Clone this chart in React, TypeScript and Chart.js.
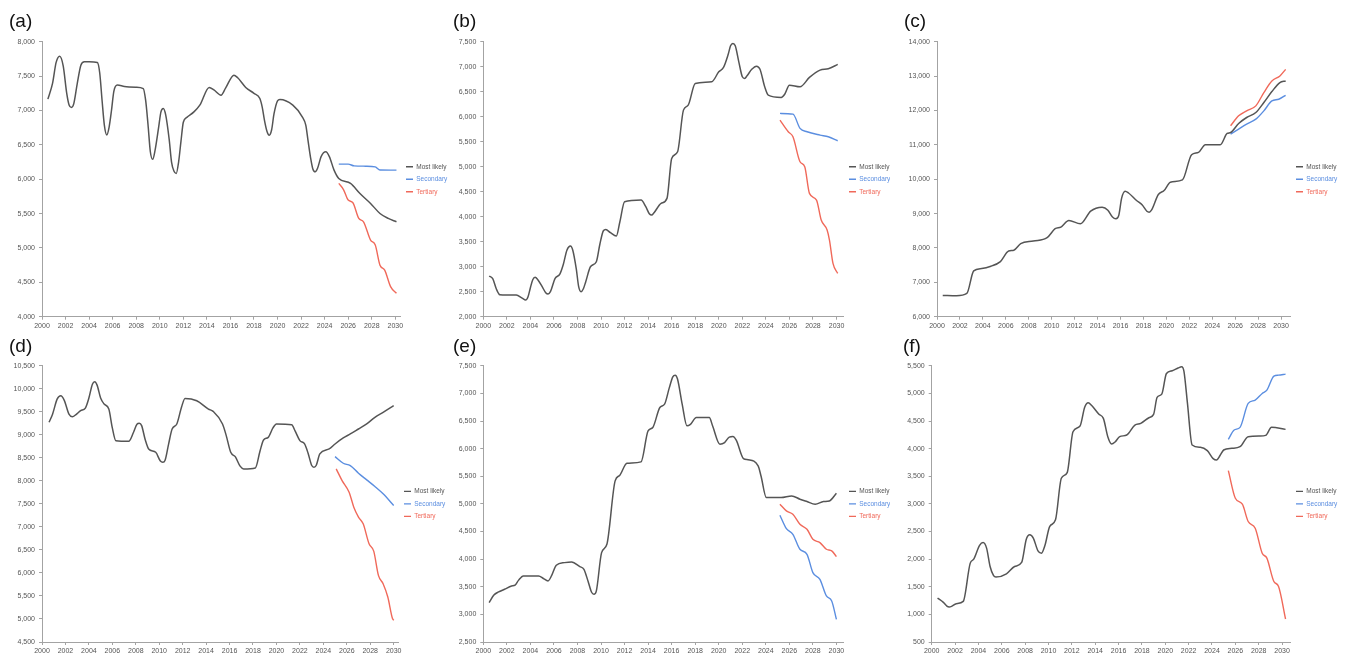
import React, { useEffect, useRef } from 'react';
import { Chart, registerables } from 'chart.js';

Chart.register(...registerables);

const FONT = "'Liberation Sans', Arial, Helvetica, sans-serif";
const SERIES_NAMES = ['Most likely', 'Secondary', 'Tertiary'];
const SERIES_COLORS = ['#555555', '#5b8ee0', '#f0695a'];
const PANEL_LABELS = ['(a)', '(b)', '(c)', '(d)', '(e)', '(f)'];
const xTickYears = [2000, 2002, 2004, 2006, 2008, 2010, 2012, 2014, 2016, 2018, 2020, 2022, 2024, 2026, 2028, 2030];

// ---------- (a) ----------
const aYTicks = [4000, 4500, 5000, 5500, 6000, 6500, 7000, 7500, 8000];
const aMostYears = [2000.5, 2000.9, 2001.2, 2001.5, 2001.8, 2002.1, 2002.3, 2002.5, 2002.7, 2003.0, 2003.3, 2003.6, 2004.0, 2004.7, 2004.9, 2005.1, 2005.3, 2005.5, 2005.7, 2005.9, 2006.1, 2006.4, 2007.0, 2008.0, 2008.6, 2008.8, 2009.0, 2009.2, 2009.4, 2009.6, 2009.9, 2010.1, 2010.3, 2010.5, 2010.8, 2011.0, 2011.2, 2011.4, 2011.6, 2011.8, 2012.0, 2012.3, 2012.9, 2013.4, 2014.2, 2014.6, 2015.2, 2015.6, 2016.3, 2016.6, 2017.3, 2018.0, 2018.5, 2018.7, 2018.9, 2019.1, 2019.3, 2019.5, 2019.7, 2020.0, 2020.2, 2021.3, 2022.1, 2022.4, 2022.6, 2022.8, 2023.0, 2023.2, 2023.4, 2023.7, 2024.1, 2024.4, 2024.8, 2025.2, 2026.2, 2027.0, 2027.9, 2028.7, 2029.4, 2030.1];
const aMost = [7166, 7400, 7700, 7790, 7650, 7250, 7080, 7045, 7100, 7400, 7660, 7710, 7710, 7700, 7550, 7150, 6780, 6645, 6760, 7000, 7280, 7370, 7350, 7340, 7320, 7150, 6800, 6400, 6290, 6420, 6750, 6980, 7030, 6940, 6580, 6250, 6120, 6085, 6250, 6550, 6830, 6900, 6980, 7078, 7336, 7300, 7224, 7330, 7515, 7480, 7336, 7250, 7175, 7050, 6850, 6700, 6642, 6720, 6950, 7140, 7161, 7078, 6909, 6787, 6550, 6320, 6150, 6109, 6160, 6330, 6400, 6330, 6133, 6012, 5939, 5793, 5648, 5502, 5430, 5381];
const aSecYears = [2025.2, 2026.0, 2026.5, 2027.5, 2028.3, 2028.7, 2030.1];
const aSec = [6220, 6220, 6195, 6190, 6180, 6135, 6133];
const aTerYears = [2025.2, 2025.6, 2026.0, 2026.4, 2026.9, 2027.3, 2027.9, 2028.3, 2028.7, 2029.1, 2029.6, 2030.1];
const aTer = [5939, 5850, 5697, 5658, 5430, 5381, 5115, 5042, 4750, 4678, 4437, 4340];

// ---------- (b) ----------
const bYTicks = [2000, 2500, 3000, 3500, 4000, 4500, 5000, 5500, 6000, 6500, 7000, 7500];
const bMostYears = [2000.5, 2000.8, 2001.1, 2001.4, 2002.0, 2002.8, 2003.3, 2003.6, 2003.8, 2004.0, 2004.2, 2004.4, 2004.6, 2005.0, 2005.3, 2005.5, 2005.7, 2006.1, 2006.5, 2006.8, 2007.1, 2007.4, 2007.6, 2007.9, 2008.1, 2008.3, 2008.5, 2008.7, 2009.1, 2009.6, 2009.9, 2010.2, 2010.4, 2010.8, 2011.3, 2011.6, 2012.0, 2013.4, 2013.8, 2014.1, 2014.3, 2014.5, 2015.1, 2015.6, 2016.0, 2016.5, 2017.0, 2017.4, 2018.0, 2019.4, 2020.0, 2020.4, 2020.8, 2021.0, 2021.2, 2021.4, 2021.7, 2022.0, 2022.2, 2022.4, 2022.8, 2023.2, 2023.5, 2023.9, 2024.2, 2025.3, 2025.6, 2026.0, 2026.9, 2027.7, 2028.6, 2029.3, 2030.1];
const bMost = [2813, 2760, 2560, 2440, 2433, 2433, 2370, 2333, 2400, 2580, 2740, 2787, 2750, 2600, 2480, 2453, 2500, 2767, 2853, 3050, 3330, 3413, 3330, 2950, 2600, 2500, 2560, 2700, 3000, 3100, 3450, 3720, 3745, 3680, 3613, 3900, 4300, 4333, 4200, 4060, 4033, 4080, 4267, 4367, 5167, 5300, 6133, 6233, 6667, 6700, 6900, 6987, 7250, 7420, 7467, 7420, 7100, 6800, 6767, 6820, 6950, 7013, 6950, 6600, 6433, 6387, 6450, 6633, 6600, 6787, 6933, 6960, 7047];
const bSecYears = [2025.2, 2026.3, 2026.9, 2027.5, 2028.6, 2029.3, 2030.1];
const bSec = [6067, 6053, 5767, 5700, 5633, 5600, 5520];
const bTerYears = [2025.2, 2025.9, 2026.3, 2026.9, 2027.3, 2027.7, 2028.3, 2028.7, 2029.2, 2029.4, 2029.7, 2030.1];
const bTer = [5933, 5700, 5600, 5100, 5000, 4467, 4333, 3933, 3733, 3533, 3067, 2867];

// ---------- (c) ----------
const cYTicks = [6000, 7000, 8000, 9000, 10000, 11000, 12000, 13000, 14000];
const cMostYears = [2000.5, 2001.7, 2002.6, 2003.2, 2003.9, 2004.7, 2005.5, 2006.25, 2006.7, 2007.3, 2008.4, 2009.6, 2010.3, 2010.8, 2011.5, 2012.5, 2013.4, 2014.4, 2014.9, 2015.3, 2015.6, 2015.85, 2016.1, 2016.4, 2016.7, 2017.4, 2017.9, 2018.3, 2018.5, 2018.7, 2019.3, 2019.8, 2020.35, 2021.4, 2022.2, 2022.8, 2023.4, 2024.7, 2025.3, 2025.6, 2026.3, 2027.0, 2027.8, 2028.5, 2029.2, 2029.9, 2030.4];
const cMost = [6618, 6609, 6676, 7333, 7401, 7469, 7594, 7913, 7935, 8126, 8203, 8300, 8560, 8609, 8802, 8705, 9072, 9188, 9100, 8900, 8850, 8950, 9450, 9652, 9600, 9382, 9250, 9070, 9043, 9100, 9556, 9671, 9913, 9981, 10715, 10783, 11005, 11005, 11333, 11360, 11623, 11797, 11942, 12232, 12551, 12812, 12860];
const cSecYears = [2025.6, 2026.3, 2027.0, 2027.8, 2028.5, 2029.2, 2029.8, 2030.4];
const cSec = [11314, 11459, 11604, 11749, 11990, 12280, 12329, 12444];
const cTerYears = [2025.6, 2026.3, 2027.0, 2027.8, 2028.5, 2029.2, 2029.9, 2030.4];
const cTer = [11556, 11845, 11990, 12135, 12522, 12860, 13005, 13198];

// ---------- (d) ----------
const dYTicks = [4500, 5000, 5500, 6000, 6500, 7000, 7500, 8000, 8500, 9000, 9500, 10000, 10500];
const dMostYears = [2000.6, 2000.9, 2001.3, 2001.6, 2001.9, 2002.3, 2002.6, 2002.9, 2003.3, 2003.7, 2004.0, 2004.3, 2004.5, 2004.7, 2005.0, 2005.3, 2005.7, 2006.0, 2006.3, 2007.4, 2007.8, 2008.1, 2008.3, 2008.5, 2008.8, 2009.1, 2009.7, 2010.1, 2010.3, 2010.5, 2010.8, 2011.1, 2011.5, 2011.9, 2012.2, 2013.2, 2014.2, 2014.6, 2015.4, 2015.7, 2016.1, 2016.5, 2016.9, 2017.2, 2018.2, 2018.6, 2018.9, 2019.3, 2019.7, 2020.0, 2021.3, 2021.6, 2022.0, 2022.4, 2022.7, 2023.0, 2023.2, 2023.4, 2023.7, 2024.5, 2025.0, 2025.7, 2026.3, 2027.0, 2027.7, 2028.4, 2029.1, 2030.0];
const dMost = [9272, 9450, 9780, 9850, 9750, 9450, 9394, 9440, 9525, 9582, 9800, 10100, 10153, 10080, 9800, 9669, 9561, 9150, 8874, 8860, 9050, 9230, 9250, 9200, 8900, 8694, 8621, 8430, 8405, 8450, 8800, 9127, 9236, 9600, 9792, 9741, 9561, 9510, 9236, 9000, 8621, 8520, 8320, 8260, 8282, 8650, 8889, 8946, 9150, 9236, 9221, 9080, 8874, 8802, 8600, 8340, 8296, 8340, 8585, 8694, 8802, 8932, 9019, 9127, 9236, 9380, 9488, 9633];
const dSecYears = [2025.0, 2025.7, 2026.3, 2027.0, 2027.7, 2028.4, 2029.1, 2030.0];
const dSec = [8527, 8383, 8332, 8166, 8022, 7877, 7718, 7464];
const dTerYears = [2025.1, 2025.6, 2026.2, 2026.6, 2027.0, 2027.4, 2027.9, 2028.3, 2028.7, 2029.1, 2029.5, 2029.9, 2030.0];
const dTer = [8260, 8007, 7754, 7428, 7212, 7067, 6634, 6474, 5948, 5767, 5478, 5009, 4972];

// ---------- (e) ----------
const eYTicks = [2500, 3000, 3500, 4000, 4500, 5000, 5500, 6000, 6500, 7000, 7500];
const eMostYears = [2000.5, 2000.9, 2001.3, 2001.8, 2002.4, 2002.7, 2003.0, 2003.4, 2004.7, 2005.1, 2005.5, 2005.8, 2006.2, 2006.9, 2007.5, 2008.2, 2008.55, 2008.9, 2009.2, 2009.4, 2009.6, 2010.05, 2010.5, 2011.2, 2011.6, 2012.2, 2013.4, 2014.0, 2014.4, 2015.0, 2015.4, 2015.8, 2016.1, 2016.3, 2016.5, 2016.9, 2017.3, 2017.6, 2018.1, 2019.2, 2019.5, 2020.1, 2020.5, 2020.9, 2021.2, 2021.5, 2022.1, 2022.5, 2023.35, 2023.6, 2024.05, 2025.3, 2026.2, 2026.9, 2027.5, 2028.2, 2028.9, 2029.4, 2030.0];
const eMost = [3213, 3350, 3406, 3454, 3514, 3530, 3620, 3696, 3696, 3650, 3605, 3700, 3889, 3937, 3949, 3865, 3816, 3600, 3400, 3363, 3420, 4118, 4269, 5417, 5519, 5737, 5761, 6322, 6383, 6745, 6806, 7100, 7300, 7331, 7260, 6800, 6413, 6440, 6564, 6564, 6400, 6081, 6110, 6210, 6220, 6150, 5821, 5800, 5688, 5500, 5115, 5115, 5145, 5085, 5042, 4994, 5042, 5054, 5193];
const eSecYears = [2025.2, 2025.75, 2026.3, 2026.9, 2027.5, 2028.0, 2028.6, 2029.15, 2029.6, 2030.0];
const eSec = [4795, 4553, 4450, 4179, 4088, 3756, 3635, 3333, 3243, 2910];
const eTerYears = [2025.2, 2025.75, 2026.3, 2026.9, 2027.5, 2028.0, 2028.6, 2029.15, 2029.6, 2030.0];
const eTer = [4994, 4873, 4813, 4632, 4541, 4360, 4300, 4179, 4149, 4046];

// ---------- (f) ----------
const fYTicks = [500, 1000, 1500, 2000, 2500, 3000, 3500, 4000, 4500, 5000, 5500];
const fMostYears = [2000.5, 2001.0, 2001.3, 2001.5, 2001.7, 2002.1, 2002.7, 2003.3, 2003.6, 2004.1, 2004.4, 2004.7, 2005.0, 2005.3, 2005.5, 2006.4, 2007.1, 2007.7, 2008.1, 2008.4, 2008.7, 2009.1, 2009.4, 2009.7, 2010.1, 2010.6, 2011.1, 2011.6, 2012.1, 2012.7, 2013.1, 2013.4, 2013.7, 2014.3, 2014.7, 2015.1, 2015.4, 2015.7, 2016.1, 2016.7, 2017.4, 2017.9, 2018.6, 2019.0, 2019.3, 2019.7, 2020.1, 2020.6, 2021.1, 2021.4, 2021.6, 2021.9, 2022.3, 2023.0, 2023.6, 2024.1, 2024.4, 2024.7, 2025.0, 2025.7, 2026.4, 2027.1, 2028.1, 2028.6, 2029.1, 2030.3];
const fMost = [1295, 1217, 1150, 1133, 1145, 1193, 1235, 1928, 2000, 2250, 2301, 2200, 1867, 1700, 1675, 1735, 1867, 1940, 2360, 2440, 2380, 2150, 2108, 2250, 2590, 2711, 3464, 3566, 4307, 4410, 4750, 4831, 4780, 4627, 4548, 4200, 4084, 4120, 4217, 4247, 4428, 4458, 4560, 4620, 4928, 4988, 5361, 5410, 5460, 5482, 5400, 4819, 4066, 4024, 3964, 3820, 3795, 3880, 3976, 4006, 4036, 4217, 4229, 4240, 4386, 4349];
const fSecYears = [2025.4, 2025.9, 2026.4, 2027.1, 2027.7, 2028.3, 2028.7, 2029.3, 2029.7, 2030.3];
const fSec = [4169, 4337, 4386, 4819, 4880, 5000, 5060, 5313, 5331, 5349];
const fTerYears = [2025.4, 2026.0, 2026.6, 2027.1, 2027.7, 2028.3, 2028.7, 2029.3, 2029.7, 2030.3];
const fTer = [3602, 3102, 2994, 2681, 2560, 2108, 2018, 1596, 1506, 916];

type Series = { years: number[]; values: number[] };
type PanelData = { yTicks: number[]; series: Series[] };

const panelData: PanelData[] = [
  { yTicks: aYTicks, series: [{ years: aMostYears, values: aMost }, { years: aSecYears, values: aSec }, { years: aTerYears, values: aTer }] },
  { yTicks: bYTicks, series: [{ years: bMostYears, values: bMost }, { years: bSecYears, values: bSec }, { years: bTerYears, values: bTer }] },
  { yTicks: cYTicks, series: [{ years: cMostYears, values: cMost }, { years: cSecYears, values: cSec }, { years: cTerYears, values: cTer }] },
  { yTicks: dYTicks, series: [{ years: dMostYears, values: dMost }, { years: dSecYears, values: dSec }, { years: dTerYears, values: dTer }] },
  { yTicks: eYTicks, series: [{ years: eMostYears, values: eMost }, { years: eSecYears, values: eSec }, { years: eTerYears, values: eTer }] },
  { yTicks: fYTicks, series: [{ years: fMostYears, values: fMost }, { years: fSecYears, values: fSec }, { years: fTerYears, values: fTer }] },
];

// layout (positions / sizes only)
const layouts = [
  { left: 0, top: 0, width: 449, height: 334, padLeft: 9, yWidth: 33, legendWidth: 49, xMax: 2030.4, titleTop: 10, titleBottom: 9, xHeight: 17.3 },
  { left: 441, top: 0, width: 449, height: 334, padLeft: 12, yWidth: 30.3, legendWidth: 47, xMax: 2030.55, titleTop: 10, titleBottom: 9, xHeight: 17.3 },
  { left: 894, top: 0, width: 452, height: 334, padLeft: 10, yWidth: 33, legendWidth: 56, xMax: 2030.78, titleTop: 10, titleBottom: 9, xHeight: 17.3 },
  { left: 0, top: 330, width: 449, height: 329, padLeft: 9, yWidth: 33, legendWidth: 51, xMax: 2030.37, titleTop: 5, titleBottom: 8, xHeight: 17 },
  { left: 441, top: 330, width: 449, height: 329, padLeft: 12, yWidth: 30.3, legendWidth: 47, xMax: 2030.56, titleTop: 5, titleBottom: 8, xHeight: 17 },
  { left: 894, top: 330, width: 452, height: 329, padLeft: 9, yWidth: 28.7, legendWidth: 56, xMax: 2030.68, titleTop: 5, titleBottom: 8, xHeight: 17 },
];

function Panel({ index }: { index: number }) {
  const ref = useRef<HTMLCanvasElement>(null);
  const L = layouts[index];
  useEffect(() => {
    const d = panelData[index];
    const yMin = d.yTicks[0];
    const yMax = d.yTicks[d.yTicks.length - 1];
    const axisColor = '#a3a3a3';
    const chart = new Chart(ref.current as HTMLCanvasElement, {
      type: 'line',
      data: {
        datasets: d.series.map((s, i) => ({
          label: SERIES_NAMES[i],
          data: s.years.map((x, j) => ({ x, y: s.values[j] })),
          borderColor: SERIES_COLORS[i],
          backgroundColor: SERIES_COLORS[i],
          borderWidth: i === 0 ? 1.5 : 1.4,
          pointRadius: 0,
          pointHoverRadius: 0,
          cubicInterpolationMode: 'monotone',
          fill: false,
        })),
      },
      options: {
        animation: false,
        responsive: false,
        events: [],
        layout: { padding: { left: L.padLeft, top: 0, right: 0, bottom: 0 } },
        plugins: {
          title: {
            display: true,
            text: PANEL_LABELS[index],
            align: 'start',
            color: '#111',
            font: { family: FONT, size: 19, weight: 'normal' },
            padding: { top: L.titleTop, bottom: L.titleBottom },
          },
          legend: {
            display: true,
            position: 'right',
            align: 'center',
            fullSize: false,
            maxWidth: L.legendWidth,
            labels: {
              usePointStyle: true,
              pointStyle: 'line',
              pointStyleWidth: 7,
              padding: 6,
              font: { family: FONT, size: 6.5 },
              generateLabels: (c: any) => {
                const items = (Chart as any).defaults.plugins.legend.labels.generateLabels(c);
                items.forEach((it: any, i: number) => {
                  it.fontColor = SERIES_COLORS[i];
                  it.lineWidth = 1.4;
                });
                return items;
              },
            },
          },
          tooltip: { enabled: false },
        },
        scales: {
          x: {
            type: 'linear',
            min: 2000,
            max: L.xMax,
            afterBuildTicks: (s: any) => {
              s.ticks = xTickYears.map((v) => ({ value: v }));
            },
            afterFit: (s: any) => {
              s.height = L.xHeight;
            },
            ticks: {
              autoSkip: false,
              maxRotation: 0,
              minRotation: 0,
              padding: 2,
              color: '#555',
              font: { family: FONT, size: 7 },
              callback: (v: any) => String(v),
            },
            grid: { drawOnChartArea: false, drawTicks: true, tickLength: 3, color: axisColor },
            border: { display: true, color: axisColor, width: 1 },
          },
          y: {
            type: 'linear',
            min: yMin,
            max: yMax,
            afterBuildTicks: (s: any) => {
              s.ticks = d.yTicks.map((v) => ({ value: v }));
            },
            afterFit: (s: any) => {
              s.width = L.yWidth;
            },
            ticks: {
              padding: 4,
              color: '#555',
              font: { family: FONT, size: 7 },
              callback: (v: any) => Number(v).toLocaleString('en-US'),
            },
            grid: { drawOnChartArea: false, drawTicks: true, tickLength: 3, color: axisColor },
            border: { display: true, color: axisColor, width: 1 },
          },
        },
      } as any,
    });
    return () => chart.destroy();
  }, [index]);
  return (
    <div style={{ position: 'absolute', left: L.left, top: L.top, width: L.width, height: L.height }}>
      <canvas ref={ref} width={L.width} height={L.height} style={{ display: 'block' }} />
    </div>
  );
}

export default function App() {
  return (
    <div
      style={{
        position: 'fixed',
        left: 0,
        top: 0,
        width: 1346,
        height: 659,
        background: '#ffffff',
        overflow: 'hidden',
      }}
    >
      {layouts.map((_, i) => (
        <Panel key={i} index={i} />
      ))}
    </div>
  );
}
